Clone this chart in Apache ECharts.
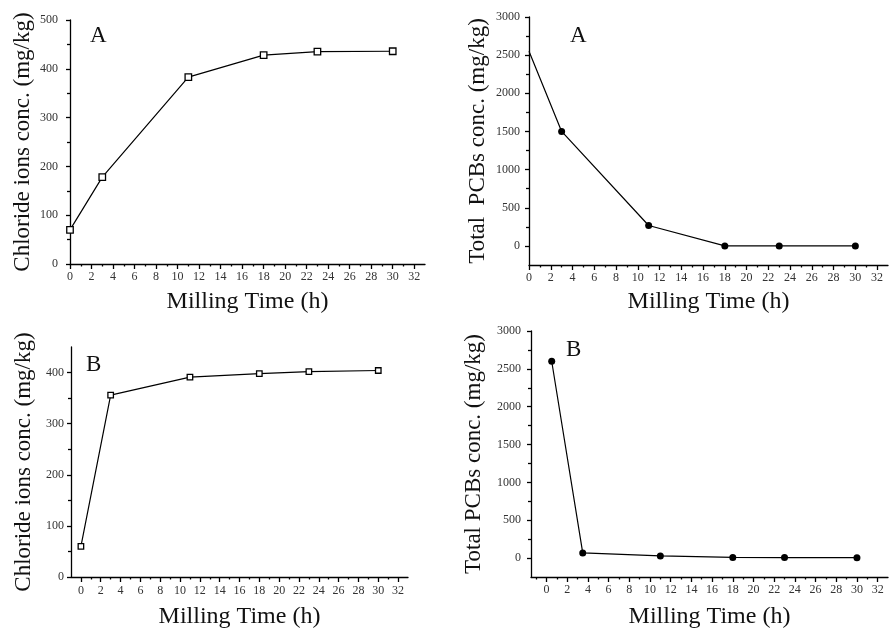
<!DOCTYPE html>
<html>
<head>
<meta charset="utf-8">
<script src="https://cdn.jsdelivr.net/npm/echarts@6/dist/echarts.min.js"></script>
<style>html,body{margin:0;padding:0;background:#fff}#c{width:889px;height:630px}</style>
</head>
<body>
<div id="c"></div>
<script>
// ---- data ----
const timeA = [0, 3, 11, 18, 23, 30];
const chlorideA = [70, 178, 383, 428, 435, 436];
const pcbTimeA = [0, 3, 11, 18, 23, 30];
const pcbA = [2550, 1500, 268, 0, 0, 0];
const timeB = [0, 3, 11, 18, 23, 30];
const chlorideB = [60, 356, 391, 398, 402, 404];
const pcbTimeB = [0.5, 3.5, 11, 18, 23, 30];
const pcbB = [2600, 68, 28, 8, 6, 5];

// ---- tick labels ----
const xMajor = [0, 2, 4, 6, 8, 10, 12, 14, 16, 18, 20, 22, 24, 26, 28, 30, 32];
const xMinor = [-1, 1, 3, 5, 7, 9, 11, 13, 15, 17, 19, 21, 23, 25, 27, 29, 31, 33];
const chlMajorA = [0, 100, 200, 300, 400, 500];
const chlMinorA = [50, 150, 250, 350, 450];
const chlMajorB = [0, 100, 200, 300, 400];
const chlMinorB = [50, 150, 250, 350, 450];
const pcbMajor = [0, 500, 1000, 1500, 2000, 2500, 3000];
const pcbMinor = [-250, 250, 750, 1250, 1750, 2250, 2750];

const titleX = 'Milling Time (h)';
const titleChl = 'Chloride ions conc. (mg/kg)';
const titlePcbA = 'Total  PCBs conc. (mg/kg)';
const titlePcbB = 'Total PCBs conc. (mg/kg)';

const FONT = 'Liberation Serif';
const LINE = {color: '#000', width: 1.3};
const plain = v => String(v);

function xAxes(g, min, max, labelMargin, nameGap) {
  return [
    {type: 'value', gridIndex: g, position: 'bottom', min: min, max: max,
     axisLine: {onZero: false, lineStyle: LINE},
     axisTick: {customValues: xMajor, length: 5, lineStyle: LINE},
     axisLabel: {customValues: xMajor, formatter: plain, margin: labelMargin, fontSize: 12, fontFamily: FONT, color: '#333'},
     splitLine: {show: false},
     name: titleX, nameLocation: 'middle', nameGap: nameGap,
     nameTextStyle: {fontSize: 24, fontFamily: FONT, color: '#111'}},
    {type: 'value', gridIndex: g, position: 'bottom', min: min, max: max,
     axisLine: {show: false, onZero: false},
     axisTick: {customValues: xMinor.filter(v => v > min && v < max), length: 2.5, lineStyle: LINE},
     axisLabel: {show: false}, splitLine: {show: false}}
  ];
}
function yAxes(g, min, max, major, minor, labelMargin, name, nameGap) {
  return [
    {type: 'value', gridIndex: g, position: 'left', min: min, max: max,
     axisLine: {onZero: false, lineStyle: LINE},
     axisTick: {customValues: major, length: 4, lineStyle: LINE},
     axisLabel: {customValues: major, formatter: plain, margin: labelMargin, fontSize: 12, fontFamily: FONT, color: '#333'},
     splitLine: {show: false},
     name: name, nameLocation: 'middle', nameRotate: 90, nameGap: nameGap,
     nameTextStyle: {fontSize: 23, fontFamily: FONT, color: '#111'}},
    {type: 'value', gridIndex: g, position: 'left', min: min, max: max,
     axisLine: {show: false, onZero: false},
     axisTick: {customValues: minor.filter(v => v > min && v < max), length: 3, lineStyle: LINE},
     axisLabel: {show: false}, splitLine: {show: false}}
  ];
}

function pairs(xs, ys) { return xs.map((x, i) => [x, ys[i]]); }

const chart = echarts.init(document.getElementById('c'), null, {renderer: 'canvas'});
const option = {
  backgroundColor: '#fff',
  animation: false,
  grid: [
    {left: 70, top: 20, right: 464, bottom: 366},
    {left: 529, top: 17, right: 1, bottom: 365},
    {left: 71, top: 347, right: 481, bottom: 49},
    {left: 531, top: 331, right: 1, bottom: 50}
  ],
  xAxis: [].concat(
    xAxes(0, 0, 33, 7, 26),
    xAxes(1, 0, 33, 7, 25),
    xAxes(2, -1, 33, 8, 28),
    xAxes(3, -1.5, 33, 7, 28)
  ),
  yAxis: [].concat(
    yAxes(0, 0, 500, chlMajorA, chlMinorA, 12, titleChl, 36),
    yAxes(1, -250, 3000, pcbMajor, pcbMinor, 9, titlePcbA, 40),
    yAxes(2, 0, 450, chlMajorB, chlMinorB, 7, titleChl, 36),
    yAxes(3, -250, 3000, pcbMajor, pcbMinor, 10, titlePcbB, 46)
  ),
  graphic: [
    {type: 'text', left: 90, top: 24, style: {text: 'A', font: '23px "Liberation Serif"', fill: '#111'}},
    {type: 'text', left: 570, top: 24, style: {text: 'A', font: '23px "Liberation Serif"', fill: '#111'}},
    {type: 'text', left: 86, top: 353, style: {text: 'B', font: '23px "Liberation Serif"', fill: '#111'}},
    {type: 'text', left: 566, top: 338, style: {text: 'B', font: '23px "Liberation Serif"', fill: '#111'}}
  ],
  series: [
    {type: 'line', xAxisIndex: 0, yAxisIndex: 0, data: pairs(timeA, chlorideA),
     symbol: 'rect', symbolSize: 6.5, showAllSymbol: true,
     lineStyle: {color: '#000', width: 1.2},
     itemStyle: {color: '#fff', borderColor: '#000', borderWidth: 1.3}},
    {type: 'line', xAxisIndex: 2, yAxisIndex: 2, data: pairs(pcbTimeA, pcbA).map((p, i) => i === 0 ? {value: p, symbol: 'none'} : p),
     symbol: 'circle', symbolSize: 7, showAllSymbol: true,
     lineStyle: {color: '#000', width: 1.2},
     itemStyle: {color: '#000'}},
    {type: 'line', xAxisIndex: 4, yAxisIndex: 4, data: pairs(timeB, chlorideB),
     symbol: 'rect', symbolSize: 5.5, showAllSymbol: true,
     lineStyle: {color: '#000', width: 1.2},
     itemStyle: {color: '#fff', borderColor: '#000', borderWidth: 1.3}},
    {type: 'line', xAxisIndex: 6, yAxisIndex: 6, data: pairs(pcbTimeB, pcbB),
     symbol: 'circle', symbolSize: 7, showAllSymbol: true,
     lineStyle: {color: '#000', width: 1.2},
     itemStyle: {color: '#000'}}
  ]
};
chart.setOption(option);
</script>
</body>
</html>
